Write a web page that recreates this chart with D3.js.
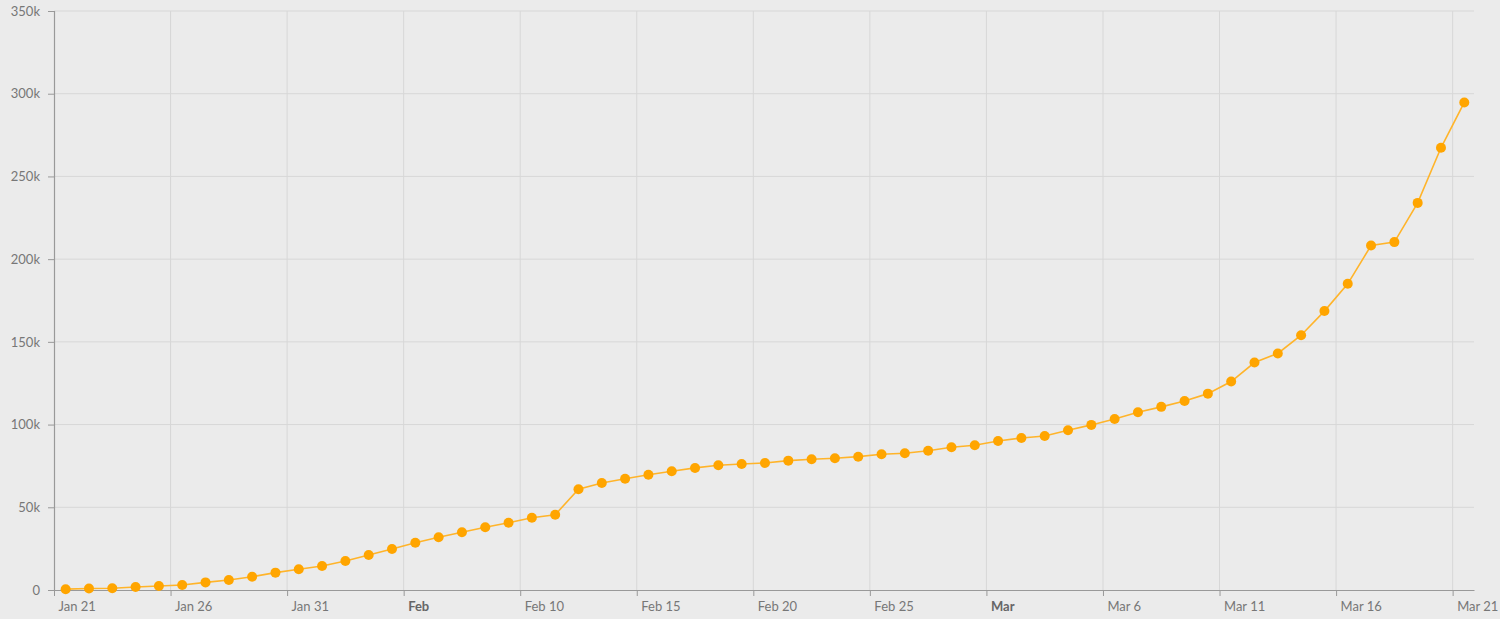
<!DOCTYPE html>
<html>
<head>
<meta charset="utf-8">
<script src="https://cdn.jsdelivr.net/npm/d3@7"></script>
<style>
  html, body { margin: 0; padding: 0; background: #ebebeb; }
  svg { display: block; }
  text { font-family: Lato, "Open Sans", sans-serif; }
</style>
</head>
<body>
<svg id="chart" width="1500" height="619"></svg>
<script>
// ---- data ----
const startDate = "2020-01-21T12:00:00Z";   // first point
const cases = [
  500, 900, 1100, 1800, 2400, 3000, 4600, 6000, 8000, 10500,
  12500, 14500, 17500, 21200, 24800, 28600, 31900, 34900, 37900, 40700,
  43700, 45500, 60900, 64700, 67300, 69700, 71800, 73800, 75400, 76200,
  76800, 78200, 79000, 79600, 80600, 82100, 82700, 84200, 86300, 87500,
  90100, 91900, 93100, 96600, 99800, 103400, 107500, 110700, 114300, 118700,
  126000, 137500, 143000, 154000, 168600, 185100, 208200, 210300, 234000, 267300,
  294700
];
const xTickDates = ["2020-01-21","2020-01-26","2020-01-31","2020-02-05","2020-02-10",
  "2020-02-15","2020-02-20","2020-02-25","2020-03-01","2020-03-06","2020-03-11",
  "2020-03-16","2020-03-21"];
const xTickLabels = ["Jan 21","Jan 26","Jan 31","Feb","Feb 10","Feb 15","Feb 20",
  "Feb 25","Mar","Mar 6","Mar 11","Mar 16","Mar 21"];
const xTickBold = ["Feb","Mar"];
const yTicks = [0, 50000, 100000, 150000, 200000, 250000, 300000, 350000];
const yTickLabels = ["0","50k","100k","150k","200k","250k","300k","350k"];

// ---- build ----
(function () {
const DAY = 86400000;
const t0 = new Date(startDate).getTime();
const points = cases.map((v, i) => ({ date: new Date(t0 + i * DAY), value: v }));

const svg = d3.select("#chart");
const mLeft = 54, mRight = 1474, mTop = 11, mBottom = 590;

const x = d3.scaleUtc()
  .domain([new Date("2020-01-21T00:00:00Z"), new Date("2020-03-21T22:00:00Z")])
  .range([mLeft, mRight]);
const y = d3.scaleLinear().domain([0, 350000]).range([mBottom, mTop]);

const tickDates = xTickDates.map(d => new Date(d + "T00:00:00Z"));

// gridlines
svg.append("g").selectAll("line").data(yTicks.slice(1)).join("line")
  .attr("x1", mLeft).attr("x2", mRight)
  .attr("y1", d => y(d)).attr("y2", d => y(d))
  .attr("stroke", "#d7d7d7").attr("stroke-width", 1);
svg.append("g").selectAll("line").data(tickDates.slice(1)).join("line")
  .attr("x1", d => x(d)).attr("x2", d => x(d))
  .attr("y1", mTop).attr("y2", mBottom)
  .attr("stroke", "#d7d7d7").attr("stroke-width", 1);

// y axis
const yAxis = d3.axisLeft(y).tickValues(yTicks)
  .tickFormat((d, i) => yTickLabels[i]).tickSize(6).tickPadding(8);
const gy = svg.append("g").attr("transform", `translate(${mLeft},0)`).call(yAxis);
gy.select(".domain").attr("stroke", "#999").attr("stroke-width", 1.2);
gy.selectAll(".tick line").attr("stroke", "#999");
gy.selectAll(".tick text").attr("fill", "#777").attr("font-size", 13)
  .attr("font-family", "Lato, 'Open Sans', sans-serif");

// x axis
const xAxis = d3.axisBottom(x).tickValues(tickDates)
  .tickFormat((d, i) => xTickLabels[i]).tickSize(6).tickSizeOuter(0);
const gx = svg.append("g").attr("transform", `translate(0,${mBottom})`).call(xAxis);
gx.select(".domain").attr("stroke", "#999").attr("stroke-width", 1.2);
gx.selectAll(".tick line").attr("stroke", "#999");
gx.selectAll(".tick text")
  .attr("text-anchor", "start").attr("x", 4).attr("y", 12).attr("dy", "0.71em")
  .attr("fill", (d, i) => xTickBold.includes(xTickLabels[i]) ? "#666" : "#777")
  .attr("font-weight", (d, i) => xTickBold.includes(xTickLabels[i]) ? "bold" : "normal")
  .attr("font-size", 13)
  .attr("font-family", "Lato, 'Open Sans', sans-serif");

// line
const line = d3.line().x(d => x(d.date)).y(d => y(d.value));
svg.append("path").datum(points)
  .attr("d", line).attr("fill", "none")
  .attr("stroke", "#ffb42a").attr("stroke-width", 1.6);

// dots
svg.append("g").selectAll("circle").data(points).join("circle")
  .attr("cx", d => x(d.date)).attr("cy", d => y(d.value))
  .attr("r", 5).attr("fill", "#ffa500");
})();
</script>
</body>
</html>
